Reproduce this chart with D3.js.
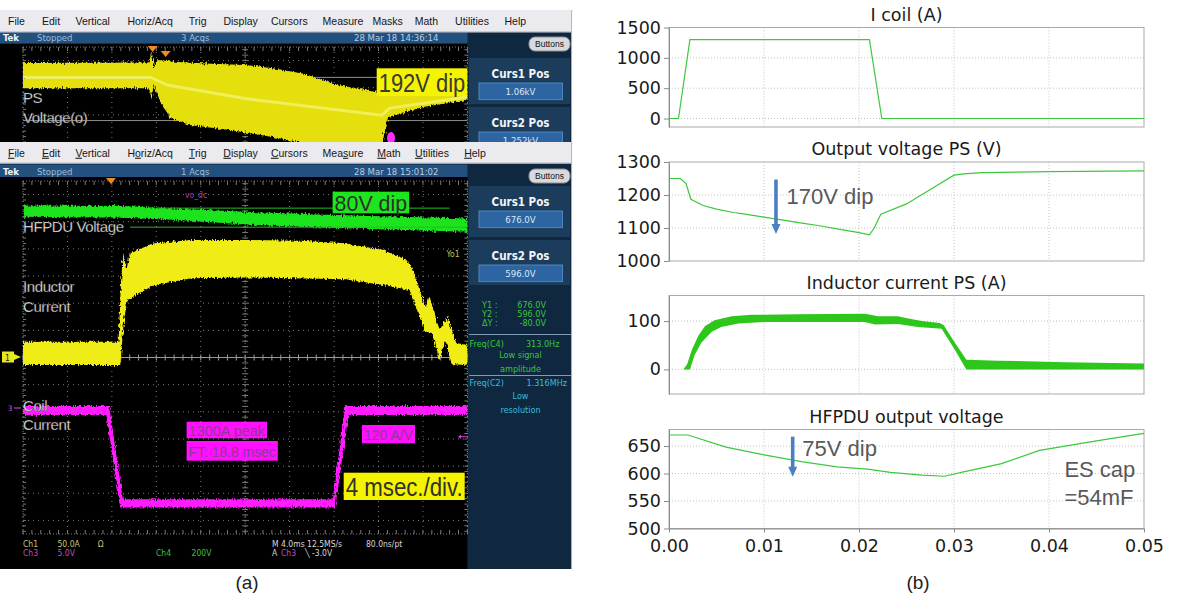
<!DOCTYPE html>
<html>
<head>
<meta charset="utf-8">
<script src="https://cdnjs.cloudflare.com/ajax/libs/d3/7.8.5/d3.min.js"></script>
<style>
	body { margin: 0; background: #fff; }
	svg { display: block; }
</style>
</head>
<body>
<div id="chart"></div>
<script>
// ---------- (b) simulation results ----------
var simXTicks = [0, 0.01, 0.02, 0.03, 0.04, 0.05];
var simTitles = ['I coil (A)', 'Output voltage PS (V)', 'Inductor current PS (A)', 'HFPDU output voltage'];
var simYDomains = [[-140, 1500], [1000, 1300], [-51, 153], [500, 680]];
var simYTicks = [[0, 500, 1000, 1500], [1000, 1100, 1200, 1300], [0, 100], [500, 550, 600, 650]];

// [time (s), value]
var iCoil = [[0, 0], [0.001, 0], [0.0022, 1300], [0.0211, 1300], [0.0224, 0], [0.05, 0]];
var psVoltage = [[0, 1250], [0.0012, 1250], [0.0018, 1234], [0.0023, 1187], [0.0036, 1168], [0.005, 1157],
	[0.0068, 1147], [0.008, 1142], [0.010, 1133], [0.012, 1124], [0.014, 1115], [0.016, 1106],
	[0.018, 1096], [0.020, 1086], [0.0211, 1079], [0.0216, 1100], [0.0223, 1142], [0.025, 1173],
	[0.0275, 1217], [0.030, 1260], [0.031, 1264], [0.033, 1268], [0.040, 1271], [0.05, 1273]];
var indCurrentUpper = [[0, 0], [0.0015, 0], [0.0019, 10], [0.0024, 40], [0.0031, 70], [0.0038, 90],
	[0.0048, 102], [0.0066, 110], [0.0087, 113], [0.0136, 114], [0.0206, 115], [0.0212, 113],
	[0.022, 110], [0.0241, 110], [0.0248, 107], [0.0266, 100], [0.0285, 96], [0.0289, 92],
	[0.0301, 55], [0.0313, 20], [0.0347, 18], [0.0417, 15], [0.05, 12]];
var indCurrentLower = [[0, 0], [0.0022, 0], [0.0027, 30], [0.0034, 55], [0.0045, 78], [0.0055, 88],
	[0.0073, 95], [0.0101, 98], [0.0206, 98], [0.0217, 93], [0.0241, 94], [0.0262, 88],
	[0.0287, 84], [0.0301, 40], [0.0313, 0], [0.05, 0]];
var hfpduVoltage = [[0, 670], [0.002, 670], [0.006, 648], [0.010, 634], [0.0141, 621], [0.0177, 612],
	[0.0209, 608], [0.0233, 602], [0.0266, 597], [0.029, 595], [0.031, 603], [0.035, 618],
	[0.039, 642], [0.0431, 654], [0.0463, 663], [0.05, 673]];

// ---------- (a) scope captures: [time (ms), level (graticule divisions)] ----------
var scopeTimeTicks = [0, 4, 8, 12, 16, 20, 24, 28, 32, 36, 40];
var psBandUpper = [[0, 5.91], [11.3, 5.93], [11.6, 6.35], [11.8, 5.7], [12.1, 6.02], [14, 5.95], [17, 5.88],
	[20, 5.84], [22.3, 5.73], [25.3, 5.51], [28.3, 5.1], [31.5, 4.86], [35, 4.8], [40, 4.79]];
var psBandLower = [[0, 4.98], [11.3, 4.98], [11.6, 4.6], [11.75, 5.1], [12.5, 4.36], [13.3, 3.88], [15, 3.63],
	[18.6, 3.44], [22, 3.22], [25.4, 2.95], [28, 2.8], [32.3, 2.8], [32.6, 3.5], [32.9, 3.92], [36, 4.29], [40, 4.55]];
var psCentre = [[0, 5.38], [11.5, 5.38], [13, 5.1], [20, 4.6], [32.3, 3.99], [33, 4.25], [40, 4.66]];
var hfpduBandUpper = [[0, 5.6], [9, 5.58], [14, 5.48], [20, 5.37], [26, 5.28], [32, 5.2], [40, 5.12]];
var hfpduBandLower = [[0, 5.18], [9, 5.15], [14, 5.06], [20, 4.9], [26, 4.8], [32, 4.72], [40, 4.63]];
var indBandUpper = [[0, 0.58], [8.6, 0.58], [8.8, 2.6], [9.0, 3.9], [9.3, 3.2], [9.6, 3.8], [10.5, 4.0],
	[11.8, 4.21], [15.2, 4.33], [20, 4.33], [25, 4.3], [29, 4.21], [32.4, 3.96], [34.5, 3.6], [35.1, 3.22],
	[36.2, 1.87], [36.6, 2.24], [37.5, 1.01], [38.2, 1.5], [39.0, 0.53], [40, 0.46]];
var indBandLower = [[0, -0.28], [8.75, -0.28], [9.1, 1.4], [9.4, 2.12], [11.8, 2.67], [15.2, 2.92], [20, 2.95],
	[29, 2.88], [32.4, 2.67], [34.8, 2.49], [35.6, 1.6], [36.2, 0.95], [36.8, 0.9], [37.5, -0.1], [38.0, 0.6],
	[38.6, -0.25], [40, -0.28]];
var coilBandUpper = [[0, -1.79], [7.75, -1.79], [9.0, -5.22], [27.9, -5.22], [29.0, -1.79], [40, -1.79]];
var coilBandLower = [[0, -2.12], [7.5, -2.12], [8.75, -5.52], [28.1, -5.52], [29.3, -2.12], [40, -2.12]];

var menuItems = ['File', 'Edit', 'Vertical', 'Horiz/Acq', 'Trig', 'Display', 'Cursors', 'Measure', 'Masks', 'Math', 'Utilities', 'Help'];
var menuItems2 = ['File', 'Edit', 'Vertical', 'Horiz/Acq', 'Trig', 'Display', 'Cursors', 'Measure', 'Math', 'Utilities', 'Help'];
var menuHotkey2 = [0, 0, 0, 1, 0, 0, 0, 3, 0, 0, 0];

// ---------- layout ----------
var menuX = [16.5, 51, 92.7, 150.2, 197.7, 240.6, 289.3, 343, 387.7, 426.4, 472, 515.3];
var menuX2 = [16.5, 51, 92.7, 150.2, 197.7, 240.6, 289.3, 343, 389, 432, 475];
var scopeRight = 571.6;
var gratLeft = 23, gratRight = 467.4;
var scopeX = d3.scaleLinear().domain([0, 40]).range([gratLeft, gratRight]);
var yTop = d3.scaleLinear().domain([3.0, 6.5]).range([142, 47]);
var yLow = d3.scaleLinear().domain([-6.5, 6.5]).range([534, 181]);
var simX = d3.scaleLinear().domain([0, 0.05]).range([669, 1144]);
var simBoxes = [{ top: 27.5, bottom: 127 }, { top: 162, bottom: 261 }, { top: 295.5, bottom: 394 }, { top: 429.5, bottom: 528.5 }];

var uiFont = 'DejaVu Sans Condensed, DejaVu Sans, sans-serif';
var noteFont = 'Liberation Sans, Arial, sans-serif';
var simFont = 'DejaVu Sans, sans-serif';

var svg = d3.select('#chart').append('svg')
	.attr('width', 1200)
	.attr('height', 609)
	.style('background', '#fff');

var defs = svg.append('defs');
defs.append('clipPath').attr('id', 'clipTop').append('rect')
	.attr('x', gratLeft).attr('y', 43.5).attr('width', gratRight - gratLeft).attr('height', 98.5);
defs.append('clipPath').attr('id', 'clipLow').append('rect')
	.attr('x', gratLeft).attr('y', 177).attr('width', gratRight - gratLeft).attr('height', 357);

// rough edge on the scope traces, like the noisy captures
var rough = defs.append('filter').attr('id', 'rough')
	.attr('filterUnits', 'userSpaceOnUse').attr('x', 0).attr('y', 0).attr('width', 600).attr('height', 609);
rough.append('feTurbulence').attr('type', 'fractalNoise').attr('baseFrequency', '0.9 0.25')
	.attr('numOctaves', 2).attr('seed', 3).attr('result', 'n');
rough.append('feDisplacementMap').attr('in', 'SourceGraphic').attr('in2', 'n')
	.attr('scale', 5).attr('xChannelSelector', 'R').attr('yChannelSelector', 'G');

function pathOf(xs, ys) {
	return d3.line()
		.x(function(d) { return xs(d[0]); })
		.y(function(d) { return ys(d[1]); });
}

function band(g, upper, lower, xs, ys, fill) {
	var pts = upper.concat(lower.slice().reverse());
	return g.append('path')
		.attr('d', pathOf(xs, ys)(pts) + 'Z')
		.attr('fill', fill);
}

// ================= (a) oscilloscope =================
function menuBar(y0, h, items, xs, hotkeys) {
	var g = svg.append('g');
	g.append('rect').attr('x', 0).attr('y', y0).attr('width', scopeRight).attr('height', h)
		.attr('fill', '#ebeaee');
	g.append('line').attr('x1', 0).attr('x2', scopeRight).attr('y1', y0 + h - 0.5).attr('y2', y0 + h - 0.5)
		.attr('stroke', '#bdbcc4');
	items.forEach(function(label, i) {
		var t = g.append('text')
			.attr('x', xs[i]).attr('y', y0 + h / 2 + 4)
			.attr('text-anchor', 'middle')
			.attr('font-family', noteFont).attr('font-size', 10.5)
			.attr('fill', '#161616');
		var k = hotkeys ? hotkeys[i] : -1;
		if (k < 0) {
			t.text(label);
		} else {
			if (k > 0) { t.append('tspan').text(label.slice(0, k)); }
			t.append('tspan').attr('text-decoration', 'underline').text(label.charAt(k));
			t.append('tspan').text(label.slice(k + 1));
		}
	});
}

function tekBar(y0, h, acqs, stamp) {
	var g = svg.append('g').attr('font-family', uiFont).attr('font-size', 9.5);
	g.append('rect').attr('x', 0).attr('y', y0).attr('width', gratRight).attr('height', h).attr('fill', '#22517f');
	g.append('text').attr('x', 3).attr('y', y0 + h - 2.5).attr('fill', '#f0f4f8').attr('font-weight', 'bold').text('Tek');
	g.append('text').attr('x', 37).attr('y', y0 + h - 2.5).attr('fill', '#9dbcd9').text('Stopped');
	g.append('text').attr('x', 181).attr('y', y0 + h - 2.5).attr('fill', '#9dbcd9').text(acqs);
	g.append('text').attr('x', 354).attr('y', y0 + h - 2.5).attr('fill', '#b7cde2').text(stamp);
}

function buttonsKey(y0) {
	svg.append('rect').attr('x', 529).attr('y', y0).attr('width', 41).attr('height', 14).attr('rx', 6)
		.attr('fill', '#d9d9dc').attr('stroke', '#8b8f96');
	svg.append('text').attr('x', 549.5).attr('y', y0 + 10).attr('text-anchor', 'middle')
		.attr('font-family', noteFont).attr('font-size', 8.5).attr('fill', '#111').text('Buttons');
}

function cursorBox(y0, h, title, value) {
	var g = svg.append('g');
	g.append('rect').attr('x', 469).attr('y', y0).attr('width', 101).attr('height', h).attr('fill', '#1c3c5b');
	g.append('text').attr('x', 520.5).attr('y', y0 + 20).attr('text-anchor', 'middle')
		.attr('font-family', uiFont).attr('font-size', 11.5).attr('font-weight', 'bold')
		.attr('fill', '#f2f5f8').text(title);
	g.append('rect').attr('x', 479).attr('y', y0 + 25).attr('width', 83.5).attr('height', 16.6)
		.attr('fill', '#2d65a2').attr('stroke', '#4e86c0');
	g.append('text').attr('x', 520.5).attr('y', y0 + 37).attr('text-anchor', 'middle')
		.attr('font-family', uiFont).attr('font-size', 9.5).attr('fill', '#dce8f4').text(value);
}

function graticule(ys, hLines, top, bottom, withBottom, withCentreH) {
	var g = svg.append('g').attr('stroke', '#7a7a7a').attr('fill', 'none');
	g.selectAll(null).data(scopeTimeTicks).enter().append('line')
		.attr('x1', function(d) { return scopeX(d); }).attr('x2', function(d) { return scopeX(d); })
		.attr('y1', top).attr('y2', bottom)
		.attr('stroke-dasharray', '1,4');
	g.selectAll(null).data(hLines).enter().append('line')
		.attr('x1', gratLeft).attr('x2', gratRight)
		.attr('y1', function(d) { return ys(d); }).attr('y2', function(d) { return ys(d); })
		.attr('stroke-dasharray', '1,4');

	var minor = d3.range(0, 40.001, 0.8);
	g.append('line').attr('x1', gratLeft).attr('x2', gratRight).attr('y1', top).attr('y2', top).attr('stroke-dasharray', '1,2');
	g.selectAll(null).data(minor).enter().append('line')
		.attr('x1', function(d) { return scopeX(d); }).attr('x2', function(d) { return scopeX(d); })
		.attr('y1', top).attr('y2', top + 4);
	if (withBottom) {
		g.append('line').attr('x1', gratLeft).attr('x2', gratRight).attr('y1', bottom).attr('y2', bottom).attr('stroke-dasharray', '1,2');
		g.selectAll(null).data(minor).enter().append('line')
			.attr('x1', function(d) { return scopeX(d); }).attr('x2', function(d) { return scopeX(d); })
			.attr('y1', bottom - 4).attr('y2', bottom);
	}
	if (withCentreH) {
		g.append('line').attr('x1', gratLeft).attr('x2', gratRight).attr('y1', ys(0)).attr('y2', ys(0)).attr('stroke', '#9a9a9a');
		g.selectAll(null).data(minor).enter().append('line')
			.attr('x1', function(d) { return scopeX(d); }).attr('x2', function(d) { return scopeX(d); })
			.attr('y1', ys(0) - 3).attr('y2', ys(0) + 3).attr('stroke', '#9a9a9a');
	}
	// centre vertical ruler and the side edges, minor ticks every 0.2 div
	var d0 = ys.invert(bottom), d1 = ys.invert(top);
	var vMinor = d3.range(Math.ceil(d0 * 5) / 5, d1, 0.2);
	[gratLeft, scopeX(20), gratRight].forEach(function(xp, i) {
		g.append('line').attr('x1', xp).attr('x2', xp).attr('y1', top).attr('y2', bottom).attr('stroke-dasharray', i === 1 ? '1,2' : '1,3');
		g.selectAll(null).data(vMinor).enter().append('line')
			.attr('x1', xp - (i === 0 ? 0 : 3)).attr('x2', xp + (i === 2 ? 0 : 3))
			.attr('y1', function(d) { return ys(d); }).attr('y2', function(d) { return ys(d); });
	});
}

function trigMark(t, y0) {
	var xp = scopeX(t);
	svg.append('path').attr('d', 'M' + (xp - 5) + ',' + y0 + 'L' + (xp + 5) + ',' + y0 + 'L' + xp + ',' + (y0 + 6) + 'Z')
		.attr('fill', '#f08a2a');
}

function overlayLabel(x, y, w, h, fill, text, color, size, baseline) {
	svg.append('rect').attr('x', x).attr('y', y).attr('width', w).attr('height', h).attr('fill', fill);
	svg.append('text').attr('x', x + 2).attr('y', y + baseline)
		.attr('font-family', noteFont).attr('font-size', size).attr('fill', color)
		.attr('textLength', w - 4).attr('lengthAdjust', 'spacingAndGlyphs')
		.text(text);
}

function whiteLabel(x, y, text) {
	svg.append('text').attr('x', x).attr('y', y)
		.attr('font-family', noteFont).attr('font-size', 15).attr('letter-spacing', -0.4)
		.attr('fill', '#fff').attr('stroke', '#222').attr('stroke-width', 0.4)
		.text(text);
}

function drawScope() {
	// ---- upper capture: PS output voltage ----
	svg.append('rect').attr('x', 0).attr('y', 32).attr('width', scopeRight).attr('height', 110).attr('fill', '#0f2840');
	svg.append('rect').attr('x', 0).attr('y', 43.5).attr('width', gratRight).attr('height', 98.5).attr('fill', '#000');
	graticule(yTop, [4, 5, 6], 47, 142, false, false);

	var top = svg.append('g').attr('clip-path', 'url(#clipTop)');
	top.append('line').attr('x1', gratLeft).attr('x2', gratRight).attr('y1', yTop(5.38)).attr('y2', yTop(5.38)).attr('stroke', '#8e8e8e');
	top.append('line').attr('x1', gratLeft).attr('x2', gratRight).attr('y1', yTop(3.79)).attr('y2', yTop(3.79)).attr('stroke', '#8e8e8e');
	band(top, psBandUpper, psBandLower, scopeX, yTop, '#e4df08').attr('filter', 'url(#rough)');
	top.append('path').attr('d', pathOf(scopeX, yTop)(psCentre)).attr('fill', 'none')
		.attr('stroke', '#f8f88c').attr('stroke-width', 3).attr('opacity', 0.6);
	top.append('ellipse').attr('cx', 391).attr('cy', 138).attr('rx', 4).attr('ry', 6).attr('fill', '#ff2cff');
	trigMark(11.67, 46);
	trigMark(12.84, 51);

	whiteLabel(23, 102.7, 'PS');
	whiteLabel(23, 123.3, 'Voltage(o)');
	overlayLabel(376.7, 68.3, 90.6, 27.7, '#f4f400', '192V dip', '#3a3a3a', 26, 23.5);

	tekBar(32.3, 11.2, '3 Acqs', '28 Mar 18 14:36:14');
	menuBar(10, 22.3, menuItems, menuX, null);
	buttonsKey(37);
	cursorBox(58, 46, 'Curs1 Pos', '1.06kV');
	cursorBox(107, 46, 'Curs2 Pos', '1.252kV');

	// ---- lower capture ----
	svg.append('rect').attr('x', 0).attr('y', 163).attr('width', scopeRight).attr('height', 406).attr('fill', '#0f2840');
	svg.append('rect').attr('x', 0).attr('y', 177).attr('width', gratRight).attr('height', 392).attr('fill', '#000');
	menuBar(142, 21.5, menuItems2, menuX2, menuHotkey2);
	tekBar(164.5, 12.5, '1 Acqs', '28 Mar 18 15:01:02');
	buttonsKey(169);

	graticule(yLow, [-6, -5, -4, -3, -2, -1, 1, 2, 3, 4, 5, 6], 181, 534, true, true);

	var low = svg.append('g').attr('clip-path', 'url(#clipLow)');
	band(low, hfpduBandUpper, hfpduBandLower, scopeX, yLow, '#1fe41f').attr('filter', 'url(#rough)');
	low.append('line').attr('x1', scopeX(12.06)).attr('x2', scopeX(38.4)).attr('y1', yLow(5.5)).attr('y2', yLow(5.5)).attr('stroke', '#27b827');
	low.append('line').attr('x1', scopeX(9.63)).attr('x2', scopeX(40)).attr('y1', yLow(4.8)).attr('y2', yLow(4.8)).attr('stroke', '#27b827');
	band(low, indBandUpper, indBandLower, scopeX, yLow, '#efec12').attr('filter', 'url(#rough)');
	band(low, coilBandUpper, coilBandLower, scopeX, yLow, '#ff1bff').attr('filter', 'url(#rough)');
	trigMark(7.92, 178);

	svg.append('text').attr('x', 185).attr('y', 197.5).attr('font-family', uiFont).attr('font-size', 8.5)
		.attr('fill', '#a83cb8').text('vo_dc');
	svg.append('text').attr('x', 446.5).attr('y', 256.5).attr('font-family', uiFont).attr('font-size', 8.5)
		.attr('fill', '#c6c454').text('Yo1');

	overlayLabel(332.6, 191.7, 76.6, 21.6, '#1ee61e', '80V dip', '#2e2e2e', 22, 19.5);
	whiteLabel(23, 231.7, 'HFPDU Voltage');
	whiteLabel(23, 291.7, 'Inductor');
	whiteLabel(23, 311.7, 'Current');
	whiteLabel(23, 410.7, 'Coil');
	whiteLabel(23, 430, 'Current');

	overlayLabel(186.6, 421.7, 80.4, 16.6, '#ff10ff', '1300A peak', '#8e3a8e', 15, 14);
	overlayLabel(186.6, 441, 91.2, 19.7, '#ff10ff', 'FT: 18.8 msec', '#8e3a8e', 15, 16);
	overlayLabel(362, 425, 53, 18.3, '#ff10ff', '120 A/V', '#8e3a8e', 15, 15);
	overlayLabel(343.7, 472.7, 121, 27.3, '#f4f400', '4 msec./div.', '#303030', 25, 23);

	// coil cursor arrow at the right edge
	svg.append('line').attr('x1', 460).attr('x2', 467).attr('y1', 436.7).attr('y2', 436.7).attr('stroke', '#e040e0');
	svg.append('path').attr('d', 'M458,436.7L461,434.7L461,438.7Z').attr('fill', '#e040e0');

	// channel markers
	svg.append('rect').attr('x', 2).attr('y', 351.5).attr('width', 12).attr('height', 11).attr('fill', '#e9e81a');
	svg.append('text').attr('x', 5).attr('y', 360.5).attr('font-family', uiFont).attr('font-size', 8.5).attr('fill', '#222').text('1');
	svg.append('path').attr('d', 'M14,354L21,357L14,360Z').attr('fill', '#e9e81a');
	svg.append('text').attr('x', 8).attr('y', 411).attr('font-family', uiFont).attr('font-size', 7.5).attr('fill', '#e050e0').text('3');
	svg.append('line').attr('x1', 14).attr('x2', 21).attr('y1', 408).attr('y2', 408).attr('stroke', '#e050e0');

	// readout strip
	var r = svg.append('g').attr('font-family', uiFont).attr('font-size', 8.5);
	[[23, 547, '#c8c476', 'Ch1'], [57.5, 547, '#c8c476', '50.0A'], [97.7, 547, '#c8c476', '\u03a9'],
		[23, 556, '#c24ac2', 'Ch3'], [57.5, 556, '#c24ac2', '5.0V'],
		[156, 556, '#3fc23f', 'Ch4'], [191.6, 556, '#3fc23f', '200V'],
		[272, 547, '#d8d8d8', 'M 4.0ms 12.5MS/s'], [366, 547, '#d8d8d8', '80.0ns/pt'],
		[272, 556, '#d8d8d8', 'A'], [281, 556, '#c24ac2', 'Ch3'], [305, 556, '#d8d8d8', '\u2572  -3.0V']
	].forEach(function(d) {
		r.append('text').attr('x', d[0]).attr('y', d[1]).attr('fill', d[2]).text(d[3]);
	});

	// side panel of the lower capture
	cursorBox(186, 51, 'Curs1 Pos', '676.0V');
	cursorBox(240, 45, 'Curs2 Pos', '596.0V');
	var p = svg.append('g').attr('font-family', uiFont).attr('font-size', 9);
	[['Y1 :', '676.0V', 307.5], ['Y2 :', '596.0V', 316.5], ['\u0394Y :', '-80.0V', 325.5]].forEach(function(d) {
		p.append('text').attr('x', 482).attr('y', d[2]).attr('fill', '#3cc43c').text(d[0]);
		p.append('text').attr('x', 546).attr('y', d[2]).attr('text-anchor', 'end').attr('fill', '#3cc43c').text(d[1]);
	});
	p.append('line').attr('x1', 469).attr('x2', scopeRight).attr('y1', 334.5).attr('y2', 334.5).attr('stroke', '#7e9ab4');
	p.append('text').attr('x', 469.5).attr('y', 346.5).attr('fill', '#3cc43c').text('Freq(C4)');
	p.append('text').attr('x', 559.4).attr('y', 346.5).attr('text-anchor', 'end').attr('fill', '#3cc43c').text('313.0Hz');
	p.append('text').attr('x', 520.5).attr('y', 357.5).attr('text-anchor', 'middle').attr('fill', '#3cc43c').text('Low signal');
	p.append('text').attr('x', 520.5).attr('y', 371.5).attr('text-anchor', 'middle').attr('fill', '#3cc43c').text('amplitude');
	p.append('line').attr('x1', 469).attr('x2', scopeRight).attr('y1', 375.5).attr('y2', 375.5).attr('stroke', '#7e9ab4');
	p.append('text').attr('x', 469.5).attr('y', 386).attr('fill', '#3cbcd6').text('Freq(C2)');
	p.append('text').attr('x', 567).attr('y', 386).attr('text-anchor', 'end').attr('fill', '#3cbcd6').text('1.316MHz');
	p.append('text').attr('x', 520.5).attr('y', 398.5).attr('text-anchor', 'middle').attr('fill', '#3cbcd6').text('Low');
	p.append('text').attr('x', 520.5).attr('y', 412.5).attr('text-anchor', 'middle').attr('fill', '#3cbcd6').text('resolution');

	svg.append('line').attr('x1', scopeRight).attr('x2', scopeRight).attr('y1', 10).attr('y2', 569).attr('stroke', '#b4b4b4');

	svg.append('text').attr('x', 247).attr('y', 589).attr('text-anchor', 'middle')
		.attr('font-family', noteFont).attr('font-size', 19).attr('fill', '#222').text('(a)');
}

// ================= (b) simulation =================
function styleAxis(a) {
	a.select('.domain').attr('stroke', '#8c8c8c');
	a.selectAll('.tick line').attr('stroke', '#8c8c8c');
	a.selectAll('.tick text').attr('font-family', simFont).attr('font-size', 17.5).attr('fill', '#1a1a1a');
}

function drawSimPanel(i, draw) {
	var box = simBoxes[i];
	var y = d3.scaleLinear().domain(simYDomains[i]).range([box.bottom, box.top]);
	var g = svg.append('g');

	g.append('text').attr('x', (simX.range()[0] + simX.range()[1]) / 2).attr('y', box.top - 7)
		.attr('text-anchor', 'middle').attr('font-family', simFont).attr('font-size', 17.5)
		.attr('fill', '#1a1a1a').text(simTitles[i]);

	g.selectAll(null).data(simXTicks.slice(1, -1)).enter().append('line')
		.attr('x1', function(d) { return simX(d); }).attr('x2', function(d) { return simX(d); })
		.attr('y1', box.top).attr('y2', box.bottom)
		.attr('stroke', '#c2c2c2').attr('stroke-dasharray', '1,2');
	g.selectAll(null).data(simYTicks[i].filter(function(d) { return y(d) > box.top + 1 && y(d) < box.bottom - 1; }))
		.enter().append('line')
		.attr('x1', simX(0)).attr('x2', simX(0.05))
		.attr('y1', function(d) { return y(d); }).attr('y2', function(d) { return y(d); })
		.attr('stroke', '#c2c2c2').attr('stroke-dasharray', '1,2');

	g.append('rect').attr('x', simX(0)).attr('y', box.top)
		.attr('width', simX(0.05) - simX(0)).attr('height', box.bottom - box.top)
		.attr('fill', 'none').attr('stroke', '#a9a9a9');

	var yAxis = d3.axisLeft(y).tickValues(simYTicks[i]).tickFormat(d3.format('d'))
		.tickSize(5).tickSizeOuter(0).tickPadding(3);
	styleAxis(g.append('g').attr('transform', 'translate(' + simX(0) + ',0)').call(yAxis));

	if (i === simBoxes.length - 1) {
		var xAxis = d3.axisBottom(simX).tickValues(simXTicks).tickFormat(d3.format('.2f'))
			.tickSize(4).tickSizeOuter(0).tickPadding(7);
		styleAxis(g.append('g').attr('transform', 'translate(0,' + box.bottom + ')').call(xAxis));
	}

	draw(g, y);
}

function arrow(g, xp, y1, y2) {
	g.append('line').attr('x1', xp).attr('x2', xp).attr('y1', y1).attr('y2', y2 - 9)
		.attr('stroke', '#4a7fc1').attr('stroke-width', 3.6);
	g.append('path').attr('d', 'M' + (xp - 4.5) + ',' + (y2 - 10) + 'L' + (xp + 4.5) + ',' + (y2 - 10) + 'L' + xp + ',' + y2 + 'Z')
		.attr('fill', '#4a7fc1');
}

function note(g, x, y, text) {
	g.append('text').attr('x', x).attr('y', y)
		.attr('font-family', noteFont).attr('font-size', 22).attr('fill', '#595959').text(text);
}

function drawSim() {
	var green = '#3dc83d';

	drawSimPanel(0, function(g, y) {
		g.append('path').attr('d', pathOf(simX, y)(iCoil)).attr('fill', 'none').attr('stroke', green).attr('stroke-width', 1.2);
	});

	drawSimPanel(1, function(g, y) {
		g.append('path').attr('d', pathOf(simX, y)(psVoltage)).attr('fill', 'none').attr('stroke', green).attr('stroke-width', 1.2);
		arrow(g, simX(0.01126), y(1247), y(1082));
		note(g, simX(0.01238), y(1173), '170V dip');
	});

	drawSimPanel(2, function(g, y) {
		band(g, indCurrentUpper, indCurrentLower, simX, y, '#2cc71a');
	});

	drawSimPanel(3, function(g, y) {
		g.append('path').attr('d', pathOf(simX, y)(hfpduVoltage)).attr('fill', 'none').attr('stroke', green).attr('stroke-width', 1.2);
		arrow(g, simX(0.01302), y(667), y(594));
		note(g, simX(0.01403), y(632), '75V dip');
		note(g, simX(0.04162), y(593.6), 'ES cap');
		note(g, simX(0.04162), y(542.7), '=54mF');
	});

	svg.append('text').attr('x', 918).attr('y', 589).attr('text-anchor', 'middle')
		.attr('font-family', noteFont).attr('font-size', 19).attr('fill', '#222').text('(b)');
}

drawScope();
drawSim();
</script>
</body>
</html>
